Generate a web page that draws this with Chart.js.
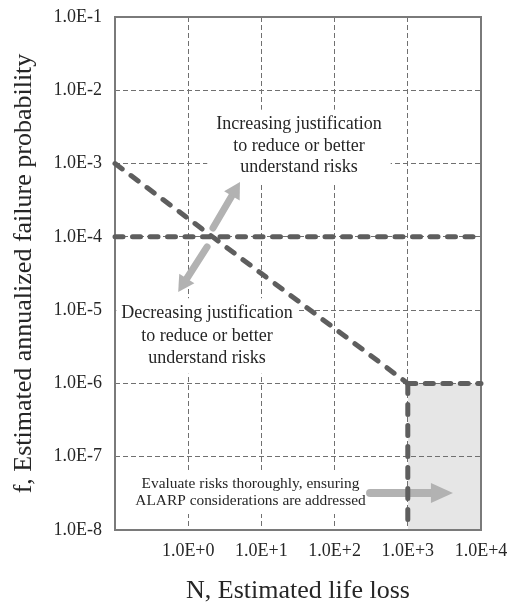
<!DOCTYPE html>
<html>
<head>
<meta charset="utf-8">
<script src="https://cdn.jsdelivr.net/npm/chart.js@4/dist/chart.umd.min.js"></script>
<style>
  html, body { margin: 0; padding: 0; background: #fff; }
</style>
</head>
<body>
<canvas id="fnChart" width="508" height="604"></canvas>
<script>
// axis ticks
const xTickValues = [1, 10, 100, 1000, 10000];
const xTickLabels = ['1.0E+0', '1.0E+1', '1.0E+2', '1.0E+3', '1.0E+4'];
const yTickValues = [1e-8, 1e-7, 1e-6, 1e-5, 1e-4, 1e-3, 1e-2, 1e-1];
const yTickLabels = ['1.0E-8', '1.0E-7', '1.0E-6', '1.0E-5', '1.0E-4', '1.0E-3', '1.0E-2', '1.0E-1'];

// guideline segments: N = life loss, f = annualized failure probability
const limitN = [0.1, 1000];
const limitF = [1e-3, 1e-6];
const tolerableN = [0.1, 10000];
const tolerableF = [1e-4, 1e-4];
const alarpCapN = [1000, 10000];
const alarpCapF = [1e-6, 1e-6];
const alarpEdgeN = [1000, 1000];
const alarpEdgeF = [1e-6, 1e-8];

const FONT = '"Liberation Serif", "Times New Roman", serif';
const TEXT = '#262626';

// text notes and arrows, anchored in data space [N, f]
const notes = [
    { lines: ['Increasing justification', 'to reduce or better', 'understand risks'], at: [32.6, 1.74e-3], size: 18, lineH: 21.5, padX: 9, padY: 4 },
    { lines: ['Decreasing justification', 'to reduce or better', 'understand risks'], at: [1.81, 4.44e-6], size: 18, lineH: 22.5, padX: 5, padY: 4 },
    { lines: ['Evaluate risks thoroughly, ensuring', 'ALARP considerations are addressed'], at: [7.1, 3.3e-8], size: 15.4, lineH: 17, padX: 4, padY: 5 }
];
const arrows = [
    { from: [2.18, 1.32e-4], to: [5.1, 5.6e-4], shaft: 7, head: 16, headW: 18 },
    { from: [1.81, 7.3e-5], to: [0.73, 1.77e-5], shaft: 7, head: 16, headW: 18 },
    { from: [305, 3.2e-8], to: [4140, 3.2e-8], shaft: 8, head: 22, headW: 20 }
];

const toPoints = (ns, fs) => ns.map((n, i) => ({ x: n, y: fs[i] }));

function dashed(points, dash) {
    return {
        data: points,
        showLine: true,
        borderColor: '#5e5e5e',
        borderWidth: 5,
        borderDash: dash,
        borderCapStyle: 'round',
        pointRadius: 0,
        fill: false,
        clip: false
    };
}

function drawArrow(ctx, x0, y0, x1, y1, shaft, headLen, headW) {
    const ang = Math.atan2(y1 - y0, x1 - x0);
    const bx = x1 - headLen * Math.cos(ang);
    const by = y1 - headLen * Math.sin(ang);
    ctx.lineWidth = shaft;
    ctx.lineCap = 'round';
    ctx.beginPath();
    ctx.moveTo(x0, y0);
    ctx.lineTo(bx, by);
    ctx.stroke();
    ctx.beginPath();
    ctx.moveTo(x1, y1);
    ctx.lineTo(bx + headW / 2 * Math.sin(ang), by - headW / 2 * Math.cos(ang));
    ctx.lineTo(bx - headW / 2 * Math.sin(ang), by + headW / 2 * Math.cos(ang));
    ctx.closePath();
    ctx.fill();
}

// notes (on white boxes), arrows and the frame go under the dashed lines
const notesPlugin = {
    id: 'notes',
    beforeDatasetsDraw(chart) {
        const { ctx, chartArea: a, scales: { x, y } } = chart;
        ctx.save();
        notes.forEach(n => {
            const cx = x.getPixelForValue(n.at[0]);
            const cy = y.getPixelForValue(n.at[1]);
            ctx.font = n.size + 'px ' + FONT;
            const w = Math.max(...n.lines.map(t => ctx.measureText(t).width));
            const h = n.lines.length * n.lineH;
            ctx.fillStyle = '#fff';
            ctx.fillRect(cx - w / 2 - n.padX, cy - h / 2 - n.padY, w + 2 * n.padX, h + 2 * n.padY);
            ctx.fillStyle = TEXT;
            ctx.textAlign = 'center';
            ctx.textBaseline = 'middle';
            n.lines.forEach((t, i) => ctx.fillText(t, cx, cy - h / 2 + n.lineH * (i + 0.5)));
        });

        ctx.fillStyle = '#b2b2b2';
        ctx.strokeStyle = '#b2b2b2';
        arrows.forEach(ar => {
            drawArrow(ctx,
                x.getPixelForValue(ar.from[0]), y.getPixelForValue(ar.from[1]),
                x.getPixelForValue(ar.to[0]), y.getPixelForValue(ar.to[1]),
                ar.shaft, ar.head, ar.headW);
        });

        ctx.strokeStyle = '#7a7a7a';
        ctx.lineWidth = 2;
        ctx.strokeRect(a.left, a.top, a.right - a.left, a.bottom - a.top);
        ctx.restore();
    }
};

new Chart(document.getElementById('fnChart'), {
    type: 'scatter',
    data: {
        datasets: [
            {
                // shaded ALARP zone
                data: toPoints(alarpCapN, alarpCapF),
                showLine: true,
                borderWidth: 0,
                borderColor: 'rgba(0,0,0,0)',
                backgroundColor: '#e6e6e6',
                pointRadius: 0,
                fill: 'start'
            },
            dashed(toPoints(limitN, limitF), [9, 11]),
            dashed(toPoints(tolerableN, tolerableF), [8, 9.5]),
            dashed(toPoints(alarpCapN, alarpCapF), [8, 9.5]),
            dashed(toPoints(alarpEdgeN, alarpEdgeF), [10, 11])
        ]
    },
    options: {
        responsive: false,
        animation: false,
        devicePixelRatio: 1,
        layout: { padding: { top: 17, right: 27, bottom: 0, left: 0 } },
        plugins: {
            legend: { display: false },
            tooltip: { enabled: false },
            filler: { drawTime: 'beforeDraw' }
        },
        scales: {
            x: {
                type: 'logarithmic',
                min: 0.1,
                max: 10000,
                afterBuildTicks: s => { s.ticks = xTickValues.map(v => ({ value: v })); },
                afterFit: s => { s.height = 74; s.paddingLeft = 0; s.paddingRight = 0; },
                ticks: {
                    callback: (v, i) => xTickLabels[i],
                    autoSkip: false,
                    maxRotation: 0,
                    padding: 10,
                    color: TEXT,
                    font: { family: FONT, size: 18 }
                },
                grid: { color: '#707070', lineWidth: 1, drawTicks: false },
                border: { display: false, dash: [5, 3] },
                title: {
                    display: true,
                    text: 'N, Estimated life loss',
                    color: TEXT,
                    font: { family: FONT, size: 26, lineHeight: 1 },
                    padding: { top: 0, bottom: 0 }
                }
            },
            y: {
                type: 'logarithmic',
                min: 1e-8,
                max: 1e-1,
                afterBuildTicks: s => { s.ticks = yTickValues.map(v => ({ value: v })); },
                afterFit: s => { s.width = 115; s.paddingTop = 0; s.paddingBottom = 0; },
                ticks: {
                    callback: (v, i) => yTickLabels[i],
                    autoSkip: false,
                    padding: 13,
                    color: TEXT,
                    font: { family: FONT, size: 18 }
                },
                grid: { color: '#707070', lineWidth: 1, drawTicks: false },
                border: { display: false, dash: [5, 3] },
                title: {
                    display: true,
                    text: 'f, Estimated annualized failure probability',
                    color: TEXT,
                    font: { family: FONT, size: 26, lineHeight: 1 },
                    padding: { top: 11, bottom: 0 }
                }
            }
        }
    },
    plugins: [notesPlugin]
});
</script>
</body>
</html>
